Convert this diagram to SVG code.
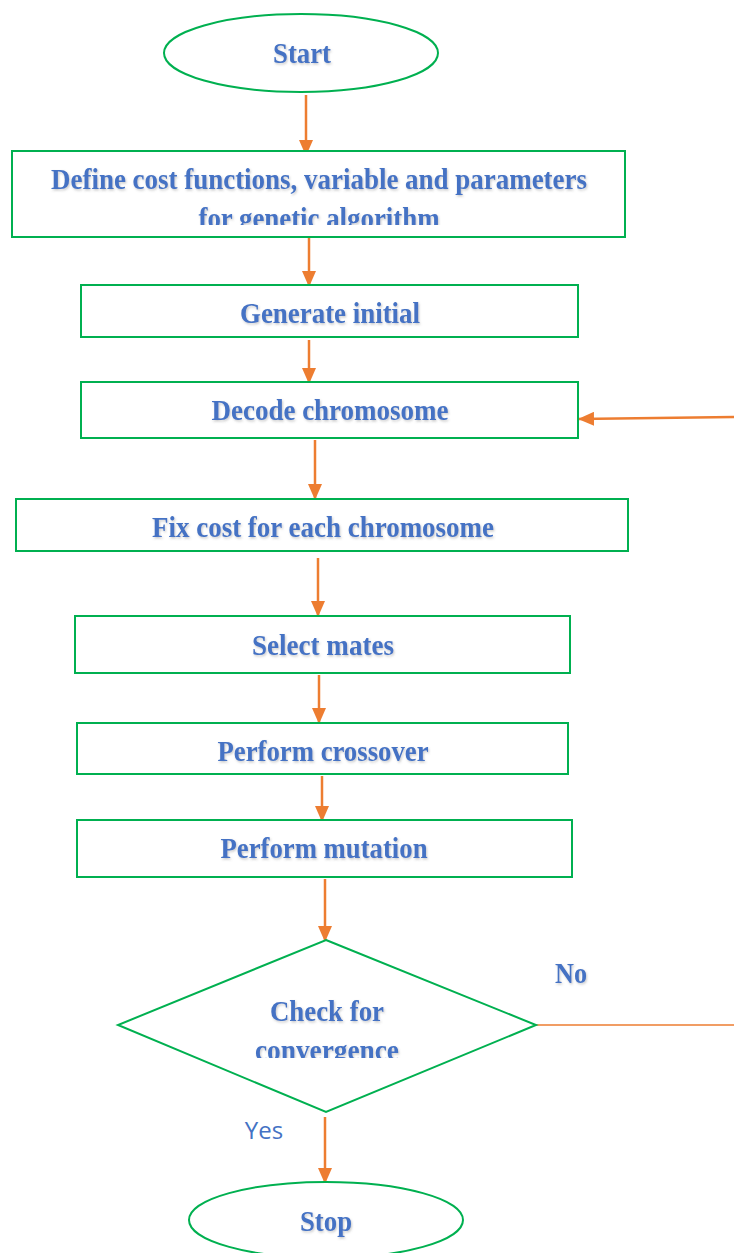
<svg xmlns="http://www.w3.org/2000/svg" width="734" height="1253" viewBox="0 0 734 1253">
  <style>
    .shape { fill: #ffffff; stroke: #00B050; stroke-width: 2; }
    .link { stroke: #ED7D31; stroke-width: 2.5; fill: none; }
    .lbl { font-family: "Liberation Serif", "Times New Roman", serif; font-weight: bold; font-size: 29px; fill: #4472C4; text-anchor: middle; filter: url(#soft); }
    .yes { font-family: "Open Sans", "Liberation Sans", sans-serif; font-size: 24px; fill: #4472C4; text-anchor: middle; }
  </style>
  <defs>
    <marker id="arrow" viewBox="0 0 16 14" refX="16" refY="7" markerWidth="16" markerHeight="14" markerUnits="userSpaceOnUse" orient="auto">
      <path d="M0,0 L16,7 L0,14 Z" fill="#ED7D31"/>
    </marker>
    <filter id="soft" x="-5%" y="-20%" width="110%" height="150%">
      <feDropShadow dx="1" dy="1.5" stdDeviation="1" flood-color="#666666" flood-opacity="0.35"/>
    </filter>
    <clipPath id="clipDefine"><rect x="12" y="150" width="614" height="75"/></clipPath>
    <clipPath id="clipCheck"><rect x="118" y="940" width="420" height="118"/></clipPath>
  </defs>

  <rect width="734" height="1253" fill="#ffffff"/>

  <!-- connectors -->
  <g id="connectors">
    <line class="link" x1="306" y1="95" x2="306" y2="156" marker-end="url(#arrow)"/>
    <line class="link" x1="309" y1="238" x2="309" y2="287" marker-end="url(#arrow)"/>
    <line class="link" x1="309" y1="340" x2="309" y2="384" marker-end="url(#arrow)"/>
    <line class="link" x1="734" y1="417" x2="578" y2="419" marker-end="url(#arrow)"/>
    <line class="link" x1="315" y1="440" x2="315" y2="500" marker-end="url(#arrow)"/>
    <line class="link" x1="318" y1="558" x2="318" y2="617" marker-end="url(#arrow)"/>
    <line class="link" x1="319" y1="675" x2="319" y2="724" marker-end="url(#arrow)"/>
    <line class="link" x1="322" y1="776" x2="322" y2="822" marker-end="url(#arrow)"/>
    <line class="link" x1="325" y1="879" x2="325" y2="942" marker-end="url(#arrow)"/>
    <line x1="536" y1="1025" x2="734" y2="1025" stroke="#ED7D31" stroke-width="1.5"/>
    <line class="link" x1="325" y1="1117" x2="325" y2="1184" marker-end="url(#arrow)"/>
  </g>

  <g id="start">
    <ellipse class="shape" cx="301" cy="53" rx="137" ry="39"/>
    <text class="lbl" x="302" y="63" textLength="58" lengthAdjust="spacingAndGlyphs">Start</text>
  </g>

  <g id="define">
    <rect class="shape" x="12" y="151" width="613" height="86"/>
    <g clip-path="url(#clipDefine)">
      <text class="lbl" x="319" y="189" textLength="536" lengthAdjust="spacingAndGlyphs">Define cost functions, variable and parameters</text>
      <text class="lbl" x="319" y="228" textLength="241" lengthAdjust="spacingAndGlyphs">for genetic algorithm</text>
    </g>
  </g>

  <g id="generate">
    <rect class="shape" x="81" y="285" width="497" height="52"/>
    <text class="lbl" x="330" y="323" textLength="180" lengthAdjust="spacingAndGlyphs">Generate initial</text>
  </g>

  <g id="decode">
    <rect class="shape" x="81" y="382" width="497" height="56"/>
    <text class="lbl" x="330" y="420" textLength="237" lengthAdjust="spacingAndGlyphs">Decode chromosome</text>
  </g>

  <g id="fixcost">
    <rect class="shape" x="16" y="499" width="612" height="52"/>
    <text class="lbl" x="323" y="537" textLength="342" lengthAdjust="spacingAndGlyphs">Fix cost for each chromosome</text>
  </g>

  <g id="select">
    <rect class="shape" x="75" y="616" width="495" height="57"/>
    <text class="lbl" x="323" y="655" textLength="142" lengthAdjust="spacingAndGlyphs">Select mates</text>
  </g>

  <g id="crossover">
    <rect class="shape" x="77" y="723" width="491" height="51"/>
    <text class="lbl" x="323" y="761" textLength="211" lengthAdjust="spacingAndGlyphs">Perform crossover</text>
  </g>

  <g id="mutation">
    <rect class="shape" x="77" y="820" width="495" height="57"/>
    <text class="lbl" x="324" y="858" textLength="207" lengthAdjust="spacingAndGlyphs">Perform mutation</text>
  </g>

  <g id="check">
    <polygon class="shape" points="326,940 536,1025 326,1112 118,1025"/>
    <g clip-path="url(#clipCheck)">
      <text class="lbl" x="327" y="1021" textLength="114" lengthAdjust="spacingAndGlyphs">Check for</text>
      <text class="lbl" x="327" y="1060" textLength="144" lengthAdjust="spacingAndGlyphs">convergence</text>
    </g>
  </g>

  <g id="labels">
    <text class="lbl" x="571" y="983" textLength="32" lengthAdjust="spacingAndGlyphs">No</text>
    <text class="yes" x="264" y="1139">Yes</text>
  </g>

  <g id="stop">
    <ellipse class="shape" cx="326" cy="1220" rx="137" ry="38"/>
    <text class="lbl" x="326" y="1231" textLength="52" lengthAdjust="spacingAndGlyphs">Stop</text>
  </g>
</svg>
